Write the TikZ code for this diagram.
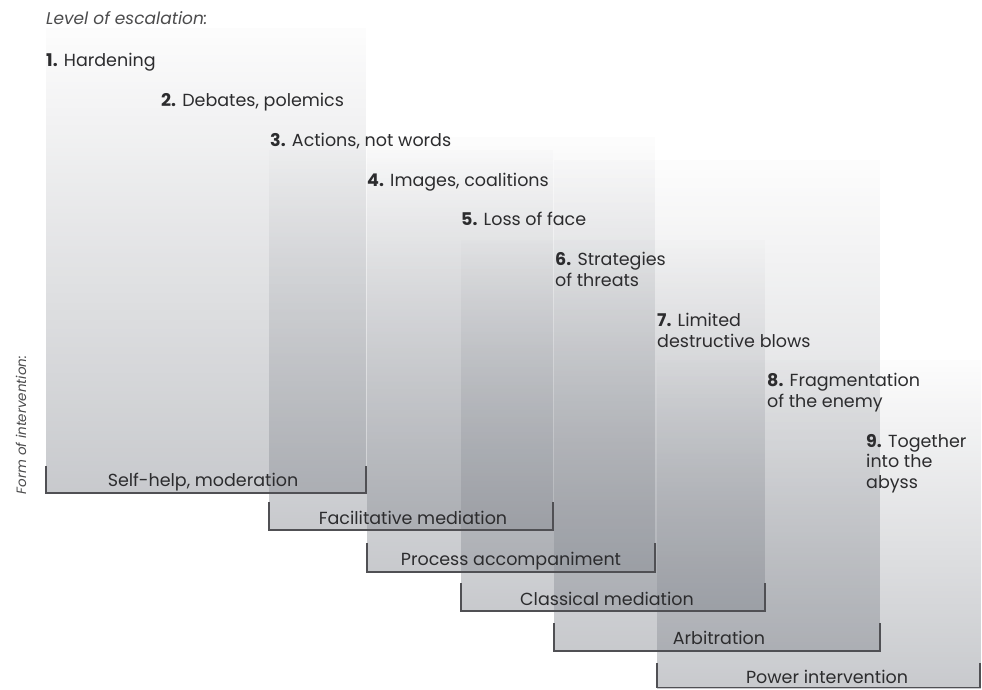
\documentclass[tikz,border=0pt]{standalone}
\usepackage{fontspec}
\setmainfont{Poppins}
\usetikzlibrary{fadings}
\definecolor{colgray}{RGB}{128,132,140}
\definecolor{brk}{RGB}{80,80,84}
\definecolor{txt}{RGB}{44,44,46}
\tikzfading[name=colfade, top color=transparent!96, bottom color=transparent!0]
\begin{document}
\begin{tikzpicture}[x=1pt,y=-1pt,
  column/.style={fill=colgray, fill opacity=0.43, path fading=colfade},
  bracket/.style={draw=brk, line width=1.1pt},
  lvl/.style={anchor=north west, align=left, inner sep=0pt, text=txt,
    font=\fontsize{17.5}{20.5}\selectfont},
  formlbl/.style={anchor=base, inner sep=0pt, text=txt, font=\fontsize{17.5}{20}\selectfont},
  heading/.style={inner sep=0pt, text=txt!85}]
\useasboundingbox (0,0) rectangle (982,689);
\fill[white] (0,0) rectangle (982,689);
% columns
\fill[column] (46,28) rectangle (366,493);
\fill[column] (269,150) rectangle (553,530);
\fill[column] (367,137) rectangle (655,572);
\fill[column] (461,240) rectangle (765,611);
\fill[column] (554,160) rectangle (880,651);
\fill[column] (657,360) rectangle (981,689);
% brackets
\draw[bracket] (46,466) -- (46,493) -- (366,493) -- (366,466);
\draw[bracket] (269,502) -- (269,530) -- (553,530) -- (553,502);
\draw[bracket] (367,543) -- (367,572) -- (655,572) -- (655,543);
\draw[bracket] (461,583) -- (461,611) -- (765,611) -- (765,583);
\draw[bracket] (554,623) -- (554,651) -- (880,651) -- (880,623);
\draw[bracket] (657,663) -- (657,687.5) -- (980,687.5) -- (980,663);
% headings
\node[heading, anchor=north west, font=\fontsize{17}{19}\selectfont\itshape] (esc) at (46,11) {Level of escalation:};
\node[heading, rotate=90, font=\fontsize{13.5}{16}\selectfont\itshape] (form) at (21,425) {Form of intervention:};
% levels
\node[lvl] (l1) at (46,53) {\textbf{1.} Hardening};
\node[lvl] (l2) at (161,93) {\textbf{2.} Debates, polemics};
\node[lvl] (l3) at (270,133) {\textbf{3.} Actions, not words};
\node[lvl] (l4) at (367,173) {\textbf{4.} Images, coalitions};
\node[lvl] (l5) at (461,212) {\textbf{5.} Loss of face};
\node[lvl] (l6) at (555,252) {\textbf{6.} Strategies\\of threats};
\node[lvl] (l7) at (657,313) {\textbf{7.} Limited\\destructive blows};
\node[lvl] (l8) at (767,373) {\textbf{8.} Fragmentation\\of the enemy};
\node[lvl] (l9) at (866,434) {\textbf{9.} Together\\into the\\abyss};
% forms of intervention
\node[formlbl] (f1) at (203,486) {Self-help, moderation};
\node[formlbl] (f2) at (413,524) {Facilitative mediation};
\node[formlbl] (f3) at (511,565) {Process accompaniment};
\node[formlbl] (f4) at (607,605) {Classical mediation};
\node[formlbl] (f5) at (719,644) {Arbitration};
\node[formlbl] (f6) at (827,683) {Power intervention};
\end{tikzpicture}
\end{document}
